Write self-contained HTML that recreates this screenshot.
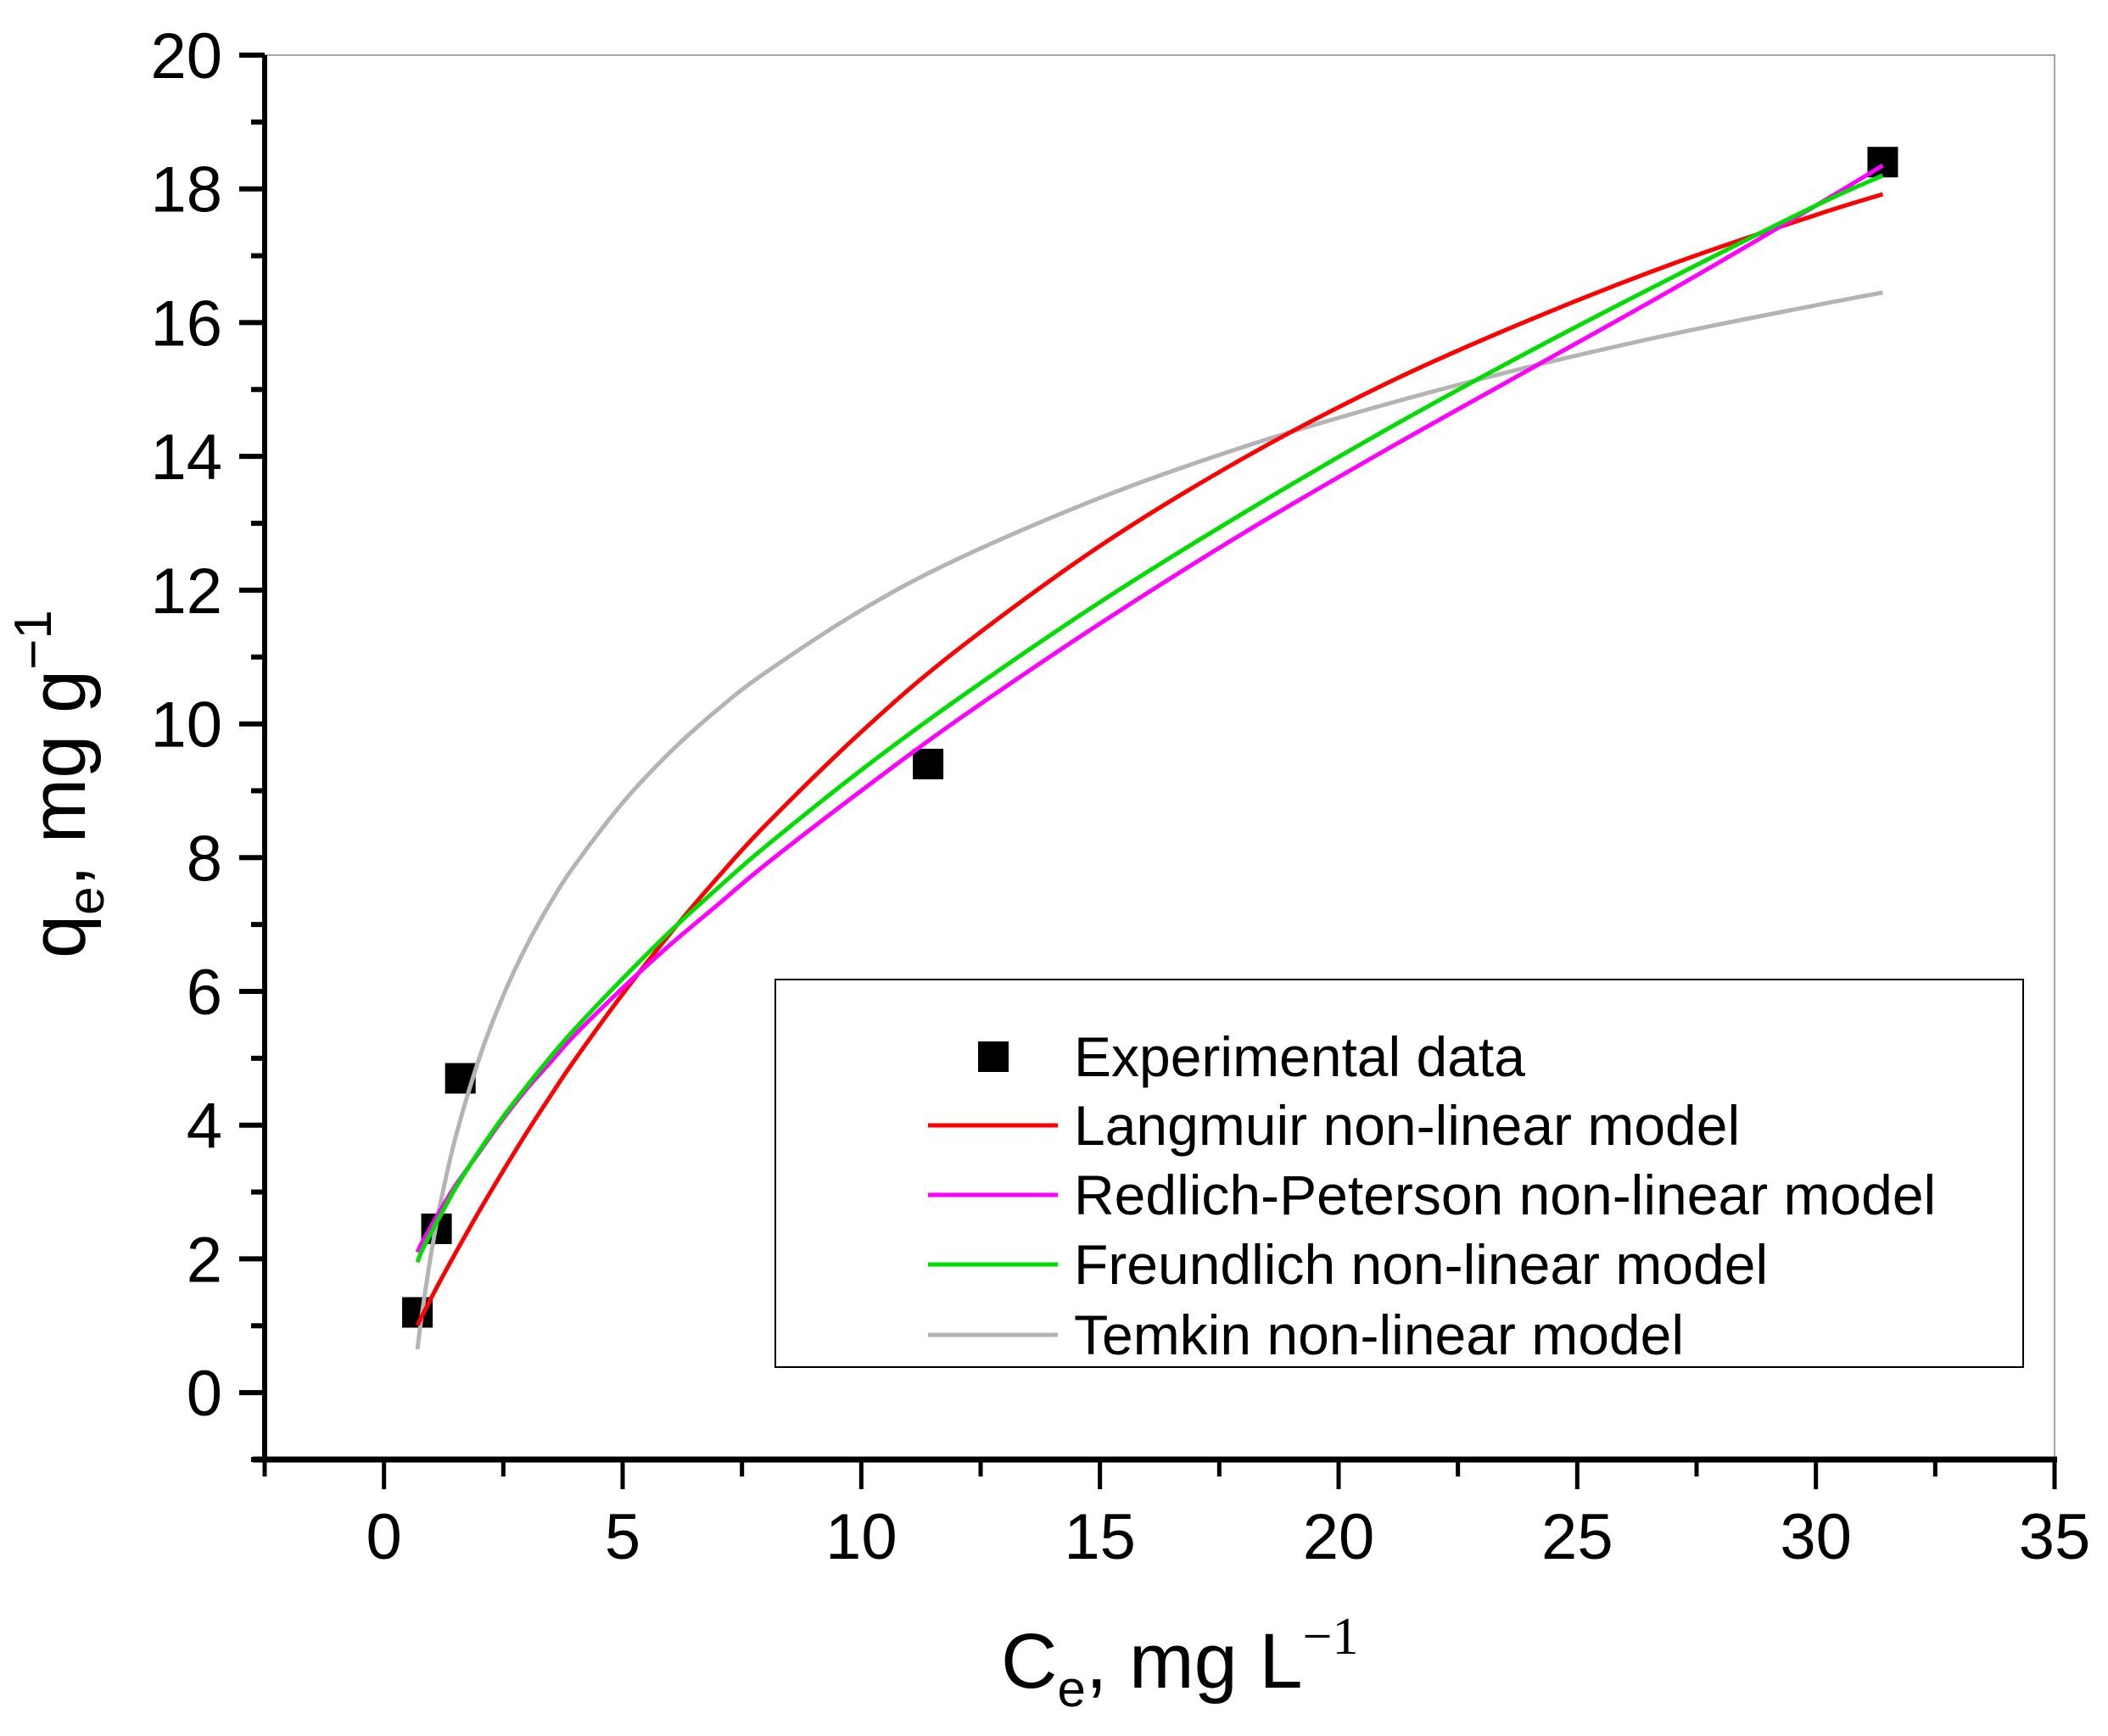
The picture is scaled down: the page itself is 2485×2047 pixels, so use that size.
<!DOCTYPE html>
<html><head><meta charset="utf-8"><style>
html,body{margin:0;padding:0;background:#fff;}
svg{display:block;font-family:"Liberation Sans",Arial,sans-serif;}
</style></head><body>
<svg id="chart" width="2485" height="2047" viewBox="0 0 2485 2047" xmlns="http://www.w3.org/2000/svg">
<rect width="2485" height="2047" fill="#fff"/>
<g id="frame"></g>
<g id="series"></g>
<g id="legend"></g>
<text x="1180" y="1990" font-size="92">C<tspan font-size="60" dy="22">e</tspan><tspan dy="-22">, mg L</tspan><tspan font-family="Liberation Serif,serif" font-size="62" dy="-40">−1</tspan></text>
<text transform="translate(100,1130) rotate(-90)" font-size="92">q<tspan font-size="60" dy="22">e</tspan><tspan dy="-22">, mg g</tspan><tspan font-size="62" dy="-40">−1</tspan></text>
</svg>
<script>
const expX=[0.7,1.1,1.6,11.4,31.4];
const expY=[1.2,2.45,4.7,9.4,18.4];
const curveX=[0.7,0.8,1,1.2,1.5,2,2.5,3,3.5,4,5,6,7,8,10,12,15,18,21,24,27,30,31.4];
const langmuirY=[1.01,1.15,1.43,1.70,2.09,2.72,3.32,3.90,4.45,4.98,5.96,6.87,7.71,8.49,9.88,11.10,12.66,13.97,15.09,16.04,16.88,17.61,17.92];
const redlichY=[2.1,2.25,2.5,2.75,3.1,3.6,4.1,4.55,4.95,5.35,6.05,6.7,7.3,7.9,9.0,10.05,11.5,12.85,14.1,15.3,16.5,17.75,18.35];
const freundlichY=[1.95,2.13,2.41,2.67,3.06,3.62,4.13,4.59,5.03,5.44,6.19,6.90,7.55,8.17,9.31,10.36,11.82,13.15,14.40,15.57,16.68,17.75,18.2];
const temkinY=[0.65,1.20,2.13,2.89,3.82,5.01,5.94,6.70,7.34,7.89,8.82,9.58,10.22,10.77,11.70,12.46,13.38,14.14,14.78,15.34,15.83,16.26,16.45];
const xTicks=[0,5,10,15,20,25,30,35];
const yTicks=[0,2,4,6,8,10,12,14,16,18,20];
const legendLabels=["Experimental data","Langmuir non-linear model","Redlich-Peterson non-linear model","Freundlich non-linear model","Temkin non-linear model"];

const NS="http://www.w3.org/2000/svg";
const X0=312,X1=2422,XMIN=-2.5,XMAX=35;
const YB=1721,YT=65,YMIN=-1,YMAX=20;
function sx(v){return X0+(v-XMIN)/(XMAX-XMIN)*(X1-X0);}
function sy(v){return YB-(v-YMIN)/(YMAX-YMIN)*(YB-YT);}
function mk(tag,attrs,parent){const e=document.createElementNS(NS,tag);for(const k in attrs)e.setAttribute(k,attrs[k]);parent.appendChild(e);return e;}
const frame=document.getElementById('frame');
const series=document.getElementById('series');
const legend=document.getElementById('legend');

let b=mk('path',{d:`M${X0},${YT}H${X1}V${YB}`,fill:'none',stroke:'#888',"stroke-width":1.5},frame);


let ya=mk('line',{x1:X0,y1:YT,x2:X0,y2:YB,stroke:'#000',"stroke-width":6},frame);


let xa=mk('line',{x1:X0-14,y1:YB,x2:X1+3,y2:YB,stroke:'#000',"stroke-width":7},frame);


for(let v=YMIN;v<=YMAX;v++){
  const major=(v%2===0);
  let t=mk('line',{x1:X0-(major?30:16),y1:sy(v),x2:X0,y2:sy(v),stroke:'#000',"stroke-width":6},frame);
  
  
}
yTicks.forEach(v=>{
  let t=mk('text',{x:262,y:sy(v)+27,"text-anchor":"end","font-size":76},frame);
  t.textContent=v;
  
  
});
for(let v=XMIN;v<=XMAX+0.01;v+=2.5){
  const major=(Math.abs(v%5)<0.01);
  let t=mk('line',{x1:sx(v),y1:YB,x2:sx(v),y2:YB+(major?35:20),stroke:'#000',"stroke-width":5},frame);
  
  
}
xTicks.forEach(v=>{
  let t=mk('text',{x:sx(v),y:1838,"text-anchor":"middle","font-size":76},frame);
  t.textContent=v;
  
  
});

function smoothPath(xs,ys){
  const p=xs.map((x,i)=>[sx(x),sy(ys[i])]);
  let d=`M${p[0][0]},${p[0][1]}`;
  for(let i=0;i<p.length-1;i++){
    const p0=p[Math.max(0,i-1)],p1=p[i],p2=p[i+1],p3=p[Math.min(p.length-1,i+2)];
    const c1=[p1[0]+(p2[0]-p0[0])/6,p1[1]+(p2[1]-p0[1])/6];
    const c2=[p2[0]-(p3[0]-p1[0])/6,p2[1]-(p3[1]-p1[1])/6];
    d+=`C${c1[0]},${c1[1]} ${c2[0]},${c2[1]} ${p2[0]},${p2[1]}`;
  }
  return d;
}
const defs=[
  {y:temkinY,c:'#b4b4b4',n:'temkin-curve'},
  {y:langmuirY,c:'#ff0000',n:'langmuir-curve'},
  {y:redlichY,c:'#ff00ff',n:'redlich-peterson-curve'},
  {y:freundlichY,c:'#00dd00',n:'freundlich-curve'}
];
expX.forEach((x,i)=>{
  let r=mk('rect',{x:sx(x)-18,y:sy(expY[i])-18,width:36,height:36,fill:'#000'},series);
  
  
});
defs.forEach(s=>{
  let p=mk('path',{d:smoothPath(curveX,s.y),fill:'none',stroke:s.c,"stroke-width":5},series);
  
  
});

let lb=mk('rect',{x:914,y:1155,width:1471,height:457,fill:'#fff',stroke:'#000',"stroke-width":2},legend);


const legY=[1246,1327,1409,1491,1574];
const legC=[null,'#ff0000','#ff00ff','#00dd00','#b4b4b4'];
legendLabels.forEach((lab,i)=>{
  if(i===0){
    let m=mk('rect',{x:1153,y:legY[i]-18,width:36,height:36,fill:'#000'},legend);
    
    
  } else {
    let l=mk('line',{x1:1094,y1:legY[i],x2:1247,y2:legY[i],stroke:legC[i],"stroke-width":5},legend);
    
    
  }
  let t=mk('text',{x:1266,y:legY[i]+23,"font-size":66},legend);
  t.textContent=lab;
  
  
});
</script>
</body></html>
